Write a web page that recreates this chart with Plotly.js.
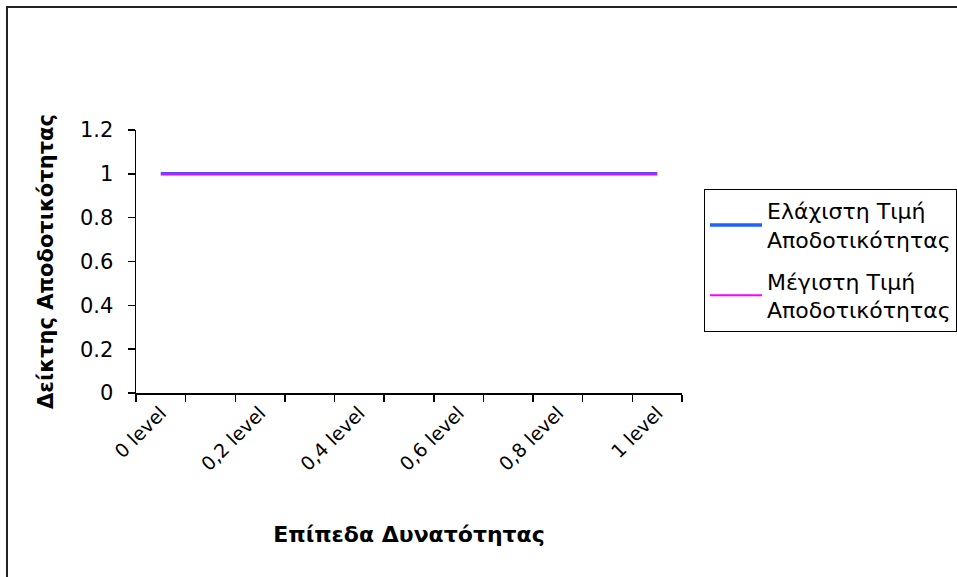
<!DOCTYPE html>
<html>
<head>
<meta charset="utf-8">
<script src="https://cdn.plot.ly/plotly-3.0.1.min.js"></script>
<style>html,body{margin:0;padding:0;background:#fff;}#chart{width:957px;height:577px;}</style>
</head>
<body>
<div id="chart"></div>
<script>
const categories = ['0 level','0,1 level','0,2 level','0,3 level','0,4 level','0,5 level','0,6 level','0,7 level','0,8 level','0,9 level','1 level'];
const minValues = [1,1,1,1,1,1,1,1,1,1,1];
const maxValues = [1,1,1,1,1,1,1,1,1,1,1];
const seriesNames = ['Ελάχιστη Τιμή<br>Αποδοτικότητας', 'Μέγιστη Τιμή<br>Αποδοτικότητας'];
const tickLabels = categories.map((c, i) => (i % 2 === 0 ? c : ''));
const xTitle = 'Επίπεδα Δυνατότητας';
const yTitle = 'Δείκτης Αποδοτικότητας';

const traces = [
  {x: categories, y: minValues, name: seriesNames[0], type: 'scatter', mode: 'lines',
   line: {color: '#1f5fff', width: 3.5}, legendgroup: 'a'},
  {x: categories, y: maxValues, name: seriesNames[1], type: 'scatter', mode: 'lines',
   line: {color: '#ff00ff', width: 2}, legendgroup: 'b'}
];

const W = 957, H = 577, L = 136, R = 957 - 682, T = 130, B = 577 - 393;
const pw = W - L - R, ph = H - T - B;
const px = v => (v - L) / pw;
const py = v => (H - B - v) / ph;

const layout = {
  width: W, height: H,
  margin: {l: L, r: R, t: T, b: B, autoexpand: false},
  paper_bgcolor: '#ffffff', plot_bgcolor: '#ffffff',
  font: {family: 'DejaVu Sans', color: '#000000'},
  showlegend: true,
  legend: {
    x: px(704), y: py(189), xanchor: 'left', yanchor: 'top',
    bgcolor: '#ffffff', bordercolor: '#000000', borderwidth: 1,
    font: {family: 'DejaVu Sans', size: 22, color: '#000000'},
    itemwidth: 52, tracegroupgap: 10
  },
  xaxis: {
    type: 'category', range: [-0.5, 10.5], tickson: 'boundaries',
    tickvals: categories, ticktext: tickLabels, tickangle: -45,
    ticks: 'outside', ticklen: 7, tickwidth: 1.5, tickcolor: '#000',
    showline: true, linecolor: '#000', linewidth: 1.5,
    showgrid: false, zeroline: false,
    tickfont: {family: 'DejaVu Sans', size: 19, color: '#000'},
    title: {text: xTitle, font: {family: 'DejaVu Sans', size: 22, weight: 'bold', color: '#000'}, standoff: 52}
  },
  yaxis: {
    range: [0, 1.2], tick0: 0, dtick: 0.2,
    ticks: 'outside', ticklen: 7, tickwidth: 1.5, tickcolor: '#000',
    showline: true, linecolor: '#000', linewidth: 1.5,
    showgrid: false, zeroline: false,
    tickfont: {family: 'DejaVu Sans', size: 21, color: '#000'},
    ticklabelstandoff: 10,
    title: {text: yTitle, font: {family: 'DejaVu Sans', size: 21, weight: 'bold', color: '#000'}, standoff: 20}
  },
  shapes: [
    {type: 'rect', xref: 'paper', yref: 'paper', x0: px(7), x1: px(1000), y0: py(7), y1: py(620),
     line: {color: '#222', width: 2}, fillcolor: 'rgba(0,0,0,0)', layer: 'above'}
  ]
};

Plotly.newPlot('chart', traces, layout, {displayModeBar: false, staticPlot: true});
</script>
</body>
</html>
